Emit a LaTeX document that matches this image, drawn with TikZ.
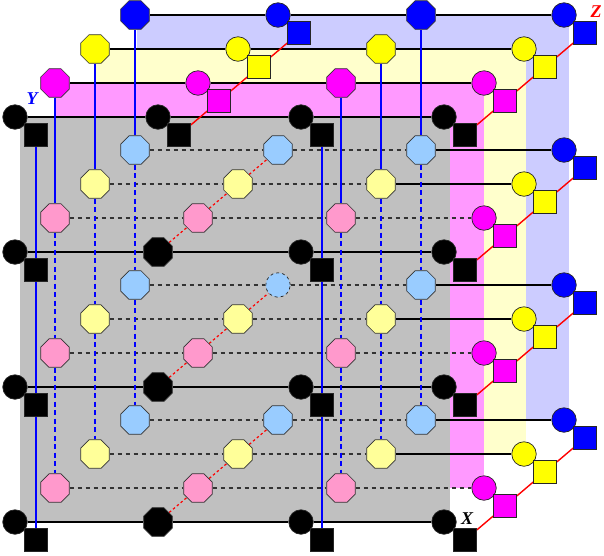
\documentclass[tikz,border=0pt]{standalone}
\usepackage{fontspec}
\setmainfont{Liberation Serif}
\usetikzlibrary{shapes.geometric}
\definecolor{cgray}{HTML}{C0C0C0}
\definecolor{cmagbg}{HTML}{FF99FF}
\definecolor{cyelbg}{HTML}{FFFFCC}
\definecolor{cblubg}{HTML}{CCCCFF}
\definecolor{cpink}{HTML}{FF99CC}
\definecolor{clyel}{HTML}{FFFF99}
\definecolor{clblu}{HTML}{99CCFF}
\definecolor{cmag}{HTML}{FF00FF}
\definecolor{cyel}{HTML}{FFFF00}
\definecolor{cblu}{HTML}{0000FF}
\pgfdeclarelayer{planes}
\pgfdeclarelayer{links}
\pgfsetlayers{planes,links,main}
\tikzset{
 octo/.style={regular polygon, regular polygon sides=8, minimum size=31pt, inner sep=0pt, draw=black!80, line width=0.7pt},
 proc/.style={circle, minimum size=24.5pt, inner sep=0pt, draw=black!85, line width=0.7pt},
 sq/.style={rectangle, minimum size=23pt, inner sep=0pt, draw=black!85, line width=0.7pt},
 rowline/.style={black, line width=1.3pt},
 rowdash/.style={black!80, line width=1.2pt, dash pattern=on 4.5pt off 3.5pt},
 colline/.style={cblu, line width=1.6pt},
 coldash/.style={cblu, line width=1.3pt, dash pattern=on 5pt off 3.5pt},
 depline/.style={red, line width=1.4pt},
 depdash/.style={red, line width=1.2pt, dash pattern=on 2.5pt off 2.5pt},
 axlabel/.style={font=\fontsize{18}{18}\selectfont\bfseries\itshape, inner sep=0pt},
}
\begin{document}
\begin{tikzpicture}[x=1pt,y=-1pt]
\useasboundingbox (0,0) rectangle (604,555);
\begin{pgfonlayer}{planes}
\fill[cblubg] (137,15) rectangle (569,420);
\fill[cyelbg] (95,49) rectangle (526,454);
\fill[cmagbg] (55,83) rectangle (484,488);
\fill[cgray] (20,116) rectangle (450,522);
\end{pgfonlayer}
% nodes
\foreach \z/\dk/\lt in {3/cblu/clblu,2/cyel/clyel,1/cmag/cpink,0/black/black}{
 \foreach \y in {0,1,2,3}{
  \foreach \x in {0,1,2,3}{
   \pgfmathsetmacro\px{15+143*\x+40*\z}
   \pgfmathsetmacro\py{522-135*\y-34*\z}
   \ifnum\z=0
     \ifnum\x=1 \ifnum\y<3 \def\kind{1}\else\def\kind{0}\fi \else \def\kind{0}\fi
   \else
     \ifnum\y=3
       \ifodd\x \def\kind{0}\else\def\kind{1}\fi
     \else
       \ifnum\x=3 \def\kind{0}\else \def\kind{2}\fi
     \fi
   \fi
   \ifnum\z=3 \ifnum\y=1 \ifnum\x=1 \def\kind{3}\fi\fi\fi
   \ifcase\kind
     \node[proc, fill=\dk] (n\x\y\z) at (\px,\py) {};
     \node[sq, fill=\dk] (s\x\y\z) at (\px+21,\py+18) {};
   \or
     \node[octo, fill=\dk] (n\x\y\z) at (\px,\py) {};
   \or
     \node[octo, fill=\lt] (n\x\y\z) at (\px,\py) {};
   \or
     \node[proc, fill=\lt, dashed] (n\x\y\z) at (\px,\py) {};
   \fi
  }}}
\begin{pgfonlayer}{links}
% rows along X
\foreach \y in {0,1,2,3} \draw[rowline] (n0\y0) -- (n1\y0) -- (n2\y0) -- (n3\y0);
\foreach \z in {1,2,3} \draw[rowline] (n03\z) -- (n13\z) -- (n23\z) -- (n33\z);
\foreach \z in {1,2,3} \foreach \y in {0,1,2} {\draw[rowdash] (n0\y\z) -- (n1\y\z) -- (n2\y\z);}
\foreach \y in {0,1,2} \draw[rowdash] (n2\y1) -- (n3\y1);
\foreach \z in {2,3} \foreach \y in {0,1,2} {\draw[rowline] (n2\y\z) -- (n3\y\z);}
% columns along Y
\foreach \x in {0,2} {\draw[colline] (s\x30) -- (s\x20) -- (s\x10) -- (s\x00);}
\foreach \x in {0,2} \foreach \z in {1,2,3} {\draw[colline] (n\x3\z) -- (n\x2\z); \draw[coldash] (n\x2\z) -- (n\x1\z) -- (n\x0\z);}
% depth along Z
\draw[depline] (s130) -- (s131) -- (s132) -- (s133);
\foreach \y in {0,1,2,3} \draw[depline] (s3\y0) -- (s3\y1) -- (s3\y2) -- (s3\y3);
\foreach \y in {0,1,2} \draw[depdash] (n1\y0) -- (n1\y1) -- (n1\y2) -- (n1\y3);
\end{pgfonlayer}
\node[axlabel, text=cblu] (ylab) at (32,99) {Y};
\node[axlabel, text=red] (zlab) at (596,12) {Z};
\node[axlabel, text=black] (xlab) at (467,519) {X};
\end{tikzpicture}
\end{document}
